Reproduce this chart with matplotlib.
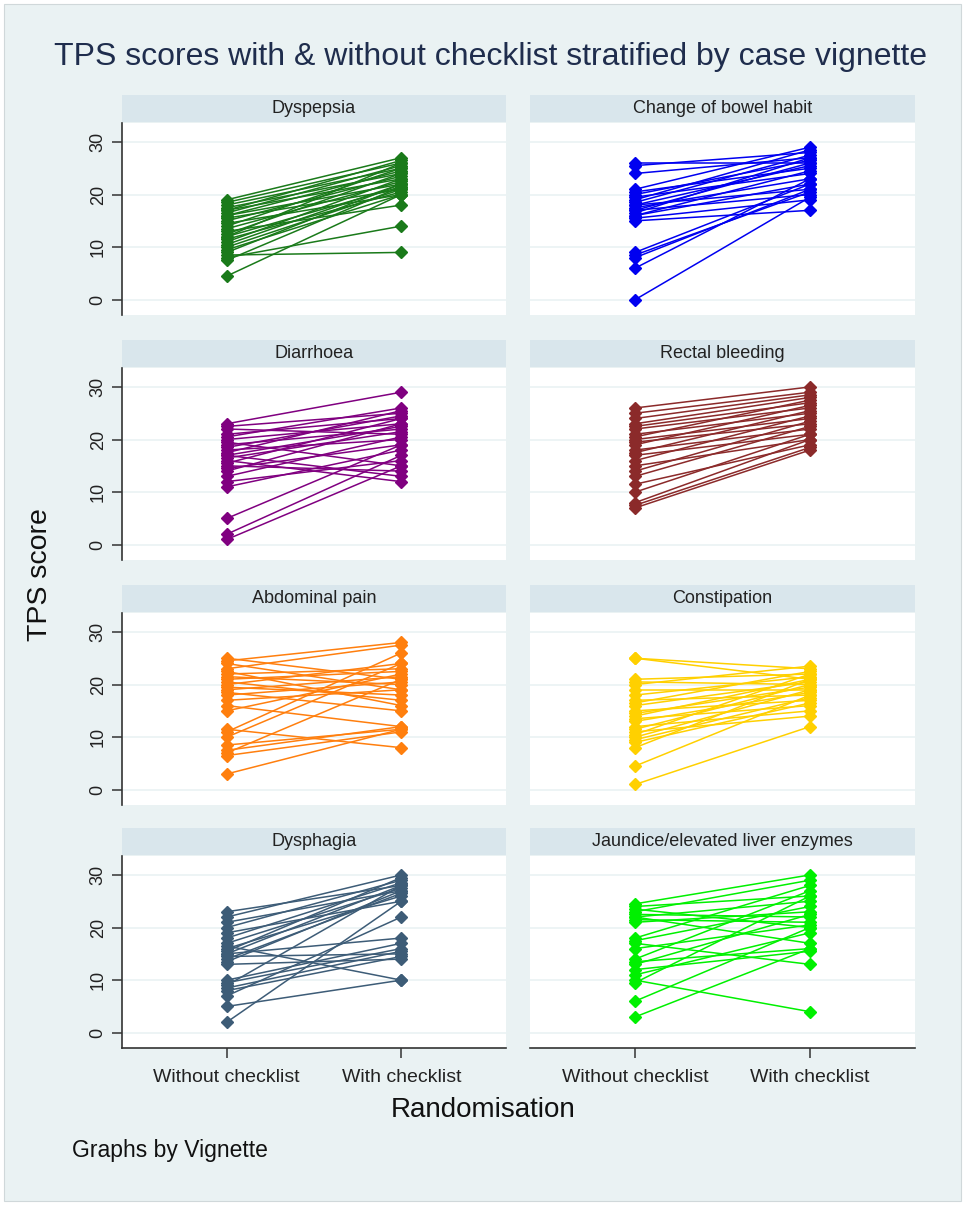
import matplotlib.pyplot as plt
from matplotlib.patches import Rectangle

plt.rcParams['font.family'] = ['Liberation Sans', 'DejaVu Sans']

# vignette panels, left-to-right, top-to-bottom
vignettes = ["Dyspepsia", "Change of bowel habit", "Diarrhoea", "Rectal bleeding",
             "Abdominal pain", "Constipation", "Dysphagia", "Jaundice/elevated liver enzymes"]
colors = ["#1A7A1A", "#0000F0", "#800080", "#8B2A2A",
          "#FF7F0E", "#FFD000", "#3D5C77", "#00F000"]
groups = ["Without checklist", "With checklist"]

# TPS scores, each pair = one participant (without, with)
dyspepsia_without = [19, 18.5, 18, 17.5, 17, 17, 16.5, 16, 16, 15.5, 15, 14.5, 14, 13.5, 13,
                     12.5, 12, 12, 11.5, 11, 10.5, 10, 9.5, 9, 8.5, 8, 7.5, 4.5]
dyspepsia_with = [27, 26, 25, 24, 26.5, 23, 25.5, 22, 24.5, 21, 23.5, 20, 25, 22.5, 18,
                  24, 21.5, 26, 20.5, 23, 22, 21, 20, 22, 9, 14, 21.5, 20]

bowel_without = [26, 25.5, 24, 21, 20.5, 20, 19.5, 19, 18.5, 18, 18, 17.5, 17, 17, 16.5,
                 16, 16, 15.5, 15, 9, 8.5, 8, 6, 0]
bowel_with = [26, 28, 27, 29, 25, 26.5, 24, 28.5, 27.5, 21, 25.5, 23, 26, 20, 27,
              22, 24.5, 19, 17, 22, 20.5, 21, 23, 19.5]

diarrhoea_without = [23, 22.5, 22, 21, 20.5, 20, 19.5, 19, 18.5, 18, 17.5, 17, 17, 16.5, 16,
                     15.5, 15, 14.5, 14, 13, 12, 11, 5, 2, 1]
diarrhoea_with = [29, 25, 21, 24, 26, 23, 15, 22, 24.5, 20, 25.5, 13, 22.5, 21.5, 12,
                  24, 14, 19, 23, 20.5, 16, 18, 19, 17, 15]

rectal_without = [26, 25, 24, 23, 22.5, 22, 21, 20.5, 20, 19.5, 19, 18, 17.5, 17, 16,
                  15, 14, 13, 11.5, 10, 8, 7.5, 7]
rectal_with = [30, 29, 28.5, 28, 27, 26, 25, 27.5, 24, 23, 26.5, 22, 25.5, 21, 24.5,
               20, 23.5, 22.5, 19, 21, 20, 18.5, 18]

abdominal_without = [25, 24.5, 24, 23, 22.5, 22, 21.5, 21, 20.5, 20, 19.5, 19, 18.5, 18, 17,
                     16, 15, 11.5, 11, 10, 8.5, 7.5, 7, 6.5, 3]
abdominal_with = [21, 28, 19, 27.5, 16, 23, 20, 22.5, 17, 24, 18, 21.5, 15, 20.5, 19,
                  12, 22, 8, 26, 24, 11.5, 12, 21, 11, 11.5]

constipation_without = [25, 25, 21, 20.5, 20, 19, 18, 17, 16.5, 16, 15, 14.5, 14, 13.5, 13,
                        12, 11.5, 11, 10.5, 10, 9.5, 9, 8, 4.5, 1]
constipation_with = [23, 21, 22, 20, 23.5, 19, 21.5, 18, 22.5, 20.5, 17, 19.5, 21, 16, 18.5,
                     15, 20, 14, 22, 19, 17.5, 16.5, 21, 18, 12]

dysphagia_without = [23, 22, 21, 20, 19, 18, 17, 16.5, 16, 15.5, 15, 15, 14.5, 14, 13.5,
                     13, 10, 9.5, 9, 8.5, 8, 7, 5, 2]
dysphagia_with = [28, 30, 27, 29, 25, 28.5, 27.5, 10, 26, 29.5, 18, 28, 15, 26.5, 27,
                  14, 17, 16, 28, 15.5, 14.5, 22, 10, 25]

jaundice_without = [24.5, 24, 23.5, 23, 22.5, 22, 22, 21.5, 21, 18, 17.5, 17, 16, 14, 13.5,
                    13, 12, 11, 10, 9.5, 6, 3]
jaundice_with = [30, 26, 20, 29, 22, 17, 25, 21, 23, 28, 24, 13, 20.5, 27, 16,
                 22.5, 15.5, 19, 4, 26, 20, 16]

scores_without = [dyspepsia_without, bowel_without, diarrhoea_without, rectal_without,
                  abdominal_without, constipation_without, dysphagia_without, jaundice_without]
scores_with = [dyspepsia_with, bowel_with, diarrhoea_with, rectal_with,
               abdominal_with, constipation_with, dysphagia_with, jaundice_with]

W, H = 965, 1205
bg = "#EAF2F3"
strip_bg = "#D9E6EC"

fig = plt.figure(figsize=(W / 100, H / 100), dpi=100, facecolor="white")
fig.patches.append(Rectangle((4 / W, 4 / H), 1 - 8 / W, 1 - 8 / H, transform=fig.transFigure,
                             facecolor=bg, edgecolor="#D0D8DA", linewidth=0.8, zorder=-10))

col_left = [122, 530]
col_width = [384, 385]
row_top = [123, 368, 613, 856]
plot_h = 192
strip_h = 27

for i, name in enumerate(vignettes):
    r, c = divmod(i, 2)
    x0 = col_left[c]
    y0 = row_top[r]
    ax = fig.add_axes([x0 / W, 1 - (y0 + plot_h) / H, col_width[c] / W, plot_h / H])
    ax.set_facecolor("white")
    ax.set_xlim(-0.6, 1.6)
    ax.set_ylim(-2.9, 33.6)
    ax.set_yticks([0, 10, 20, 30])
    ax.grid(axis="y", color=bg, linewidth=1.2)
    ax.set_axisbelow(True)
    for s in ["top", "right"]:
        ax.spines[s].set_visible(False)
    ax.spines["left"].set_visible(c == 0)
    ax.spines["bottom"].set_visible(r == 3)
    for s in ["left", "bottom"]:
        ax.spines[s].set_color("#333333")
        ax.spines[s].set_linewidth(1.2)
    if c == 0:
        ax.tick_params(axis="y", length=7, width=1.1, color="#333333", labelsize=13,
                       labelrotation=90, pad=4, labelcolor="#222222")
        for lab in ax.get_yticklabels():
            lab.set_verticalalignment("center")
    else:
        ax.tick_params(axis="y", length=0, labelleft=False)
    if r == 3:
        ax.set_xticks([0, 1])
        ax.set_xticklabels(groups)
        ax.tick_params(axis="x", length=7, width=1.1, color="#333333", labelsize=14,
                       pad=8, labelcolor="#222222")
    else:
        ax.set_xticks([])

    for a, b in zip(scores_without[i], scores_with[i]):
        ax.plot([0, 1], [a, b], color=colors[i], linewidth=1.1, marker="D",
                markersize=6.5, clip_on=False)

    # strip header
    fig.patches.append(Rectangle((x0 / W, 1 - (y0 - 1) / H), col_width[c] / W, strip_h / H,
                                 transform=fig.transFigure, facecolor=strip_bg,
                                 edgecolor="none"))
    fig.text((x0 + col_width[c] / 2) / W, 1 - (y0 - 1 - strip_h / 2) / H, name,
             ha="center", va="center", fontsize=13, color="#222222")

fig.text(490 / W, 1 - 57 / H, "TPS scores with & without checklist stratified by case vignette",
         ha="center", va="center", fontsize=23, color="#1F2D4D")
fig.text(40 / W, 1 - 575 / H, "TPS score", rotation=90, ha="center", va="center",
         fontsize=20.5, color="#111111")
fig.text(483 / W, 1 - 1110 / H, "Randomisation", ha="center", va="center",
         fontsize=20, color="#111111")
fig.text(72 / W, 1 - 1150 / H, "Graphs by Vignette", ha="left", va="center",
         fontsize=16.5, color="#111111")

fig.savefig("out.png", dpi=100, facecolor=fig.get_facecolor())
